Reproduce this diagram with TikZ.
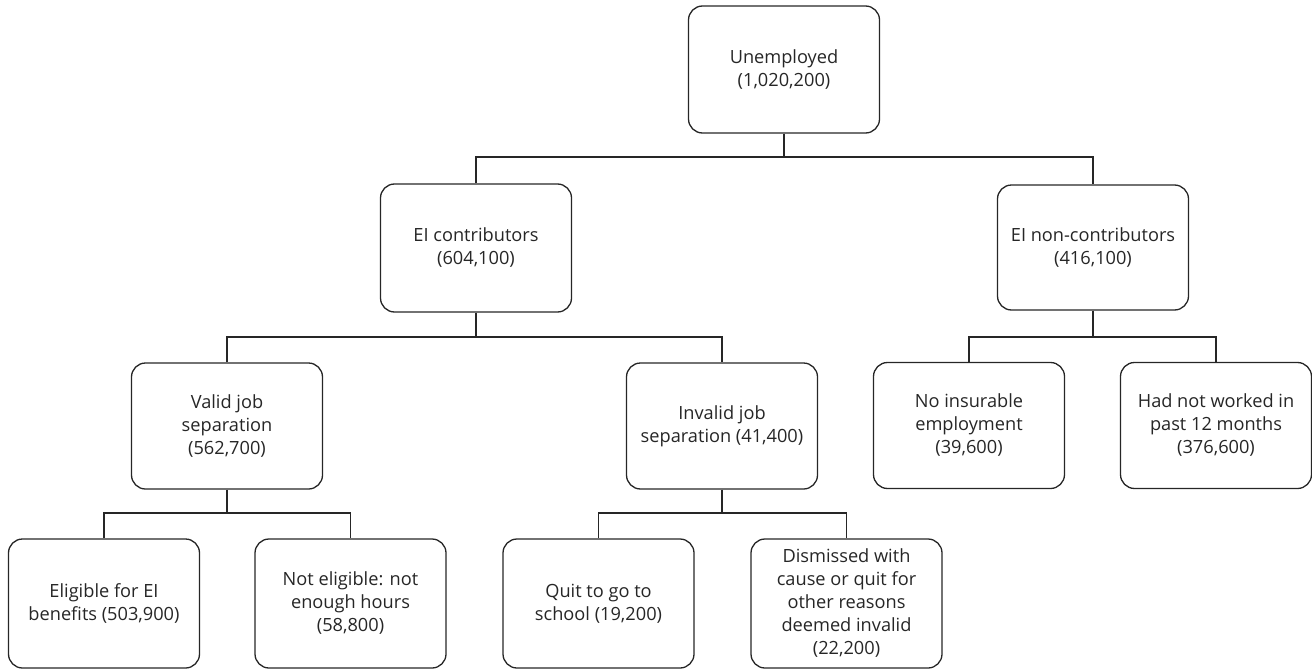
\documentclass[tikz,border=0pt]{standalone}
\usepackage{fontspec}
\setmainfont{Open Sans}
\begin{document}
\begin{tikzpicture}[x=1pt,y=-1pt,
  box/.style={draw=black!85, line width=1.3pt, rounded corners=14pt, minimum width=191pt, align=center, text=black!85, font=\fontsize{18.2}{23}\selectfont, inner sep=2pt},
  link/.style={draw=black!85, line width=1.3pt}]
\useasboundingbox (0,0) rectangle (1312,669);
\node[box, minimum height=127pt] (U) at (784,69.5) {Unemployed\\(1,020,200)};
\node[box, minimum height=128pt] (C) at (476,248) {EI contributors\\(604,100)};
\node[box, minimum height=125pt] (N) at (1093,247.5) {EI non-contributors\\(416,100)};
\node[box, minimum height=126pt] (V) at (227,426) {Valid job\\separation\\(562,700)};
\node[box, minimum height=126pt] (I) at (722,426) {Invalid job\\separation (41,400)};
\node[box, minimum height=126pt] (NI) at (969,425.5) {No insurable\\employment\\(39,600)};
\node[box, minimum height=126pt] (HN) at (1216,425.5) {Had not worked in\\past 12 months\\(376,600)};
\node[box, minimum height=129pt] (E) at (104,603.5) {Eligible for EI\\benefits (503,900)};
\node[box, minimum height=129pt] (NE) at (350.5,603.5) {Not eligible: not\\enough hours\\(58,800)};
\node[box, minimum height=129pt] (Q) at (598.5,603.5) {Quit to go to\\school (19,200)};
\node[box, minimum height=129pt] (D) at (846.5,603.5) {Dismissed with\\cause or quit for\\other reasons\\deemed invalid\\(22,200)};
\coordinate (j1) at (784,157);
\coordinate (j2) at (476,337);
\coordinate (j3) at (1093,337);
\coordinate (j4) at (227,513);
\coordinate (j5) at (722,513);
\draw[link] (U.south) -- (j1);
\draw[link] (C.north) |- (j1) -| (N.north);
\draw[link] (C.south) -- (j2);
\draw[link] (V.north) |- (j2) -| (I.north);
\draw[link] (N.south) -- (j3);
\draw[link] (NI.north) |- (j3) -| (HN.north);
\draw[link] (V.south) -- (j4);
\draw[link] (E.north) |- (j4) -| (NE.north);
\draw[link] (I.south) -- (j5);
\draw[link] (Q.north) |- (j5) -| (D.north);
\end{tikzpicture}
\end{document}
